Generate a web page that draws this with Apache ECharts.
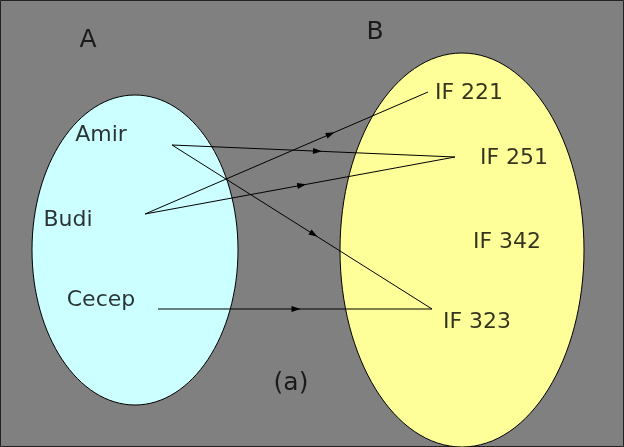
<!DOCTYPE html>
<html><head><meta charset="utf-8">
<script src="https://cdn.jsdelivr.net/npm/echarts@6/dist/echarts.min.js"></script>
<style>html,body{margin:0;padding:0;background:#808080}#c{width:624px;height:447px}</style>
</head><body><div id="c"></div>
<script>
// sets: [label, cx, cy, rx, ry, fill]
const sets = [
  ['A', 135, 250, 103, 155, '#ccffff'],
  ['B', 462, 250, 122, 197, '#ffff99']
];
const setLabels = [['A', 88, 40], ['B', 375, 32], ['(a)', 291, 383]];
const domain = ['Amir', 'Budi', 'Cecep'];
const domainPos = [[101, 135], [68, 220], [101, 300]];
const domainAnchor = [[172, 145], [145, 214], [158, 309]];
const codomain = ['IF 221', 'IF 251', 'IF 342', 'IF 323'];
const codomainPos = [[469, 93], [514, 158], [507, 242], [477, 322]];
const codomainAnchor = [[428, 92], [455, 157], null, [432, 309]];
// mapping pairs [domain index, codomain index, arrow position along line]
const links = [[0, 1, 0.53], [0, 3, 0.56], [1, 0, 0.67], [1, 1, 0.52], [2, 3, 0.52]];

const chart = echarts.init(document.getElementById('c'));
const font = 'DejaVu Sans';
chart.setOption({
  backgroundColor: '#808080',
  animation: false,
  grid: { left: 0, right: 0, top: 0, bottom: 0 },
  xAxis: { type: 'value', min: 0, max: 624, show: false },
  yAxis: { type: 'value', min: 0, max: 447, inverse: true, show: false },
  series: [
    {
      type: 'custom',
      data: sets.map(s => s.slice(1)),
      renderItem: (params, api) => {
        const c = api.coord([api.value(0), api.value(1)]);
        const sz = api.size([api.value(2), api.value(3)]);
        return {
          type: 'ellipse',
          shape: { cx: c[0], cy: c[1], rx: sz[0], ry: sz[1] },
          style: { fill: sets[params.dataIndex][5], stroke: '#000', lineWidth: 1 }
        };
      }
    },
    {
      type: 'custom',
      data: links.map(l => [...domainAnchor[l[0]], ...codomainAnchor[l[1]], l[2]]),
      renderItem: (params, api) => {
        const a = api.coord([api.value(0), api.value(1)]);
        const b = api.coord([api.value(2), api.value(3)]);
        const t = api.value(4);
        const dx = b[0] - a[0], dy = b[1] - a[1];
        const len = Math.hypot(dx, dy), ux = dx / len, uy = dy / len;
        const m = [a[0] + dx * t, a[1] + dy * t];
        const back = [m[0] - ux * 9, m[1] - uy * 9];
        return {
          type: 'group',
          children: [
            { type: 'line', shape: { x1: a[0], y1: a[1], x2: b[0], y2: b[1] }, style: { stroke: '#000', lineWidth: 1 } },
            { type: 'polygon', shape: { points: [m, [back[0] - uy * 3, back[1] + ux * 3], [back[0] + uy * 3, back[1] - ux * 3]] }, style: { fill: '#000' } }
          ]
        };
      }
    },
    {
      type: 'scatter',
      symbolSize: 0,
      data: [
        ...setLabels.map(l => ({ value: [l[1], l[2]], name: l[0], fs: 25 })),
        ...domain.map((n, i) => ({ value: domainPos[i], name: n, fs: 22 })),
        ...codomain.map((n, i) => ({ value: codomainPos[i], name: n, fs: 22 }))
      ].map(d => ({ value: d.value, name: d.name, label: { fontSize: d.fs } })),
      label: {
        show: true, position: 'inside', formatter: p => p.name,
        color: '#000', fontFamily: font
      }
    }
  ],
  graphic: [{
    type: 'rect', shape: { x: 0.5, y: 0.5, width: 623, height: 446 },
    style: { fill: 'none', stroke: '#222', lineWidth: 1 }
  }]
});
</script></body></html>
